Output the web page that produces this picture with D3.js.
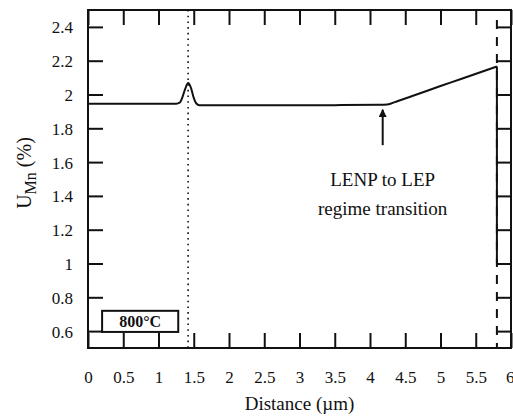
<!DOCTYPE html>
<html>
<head>
<meta charset="utf-8">
<script src="https://cdn.jsdelivr.net/npm/d3@7"></script>
<style>
  html, body { margin: 0; padding: 0; background: #fff; }
  svg { display: block; }
  svg text { font-family: "Liberation Serif", "Times New Roman", serif; }
</style>
</head>
<body>
<svg id="chart" width="513" height="417"></svg>
<script>
// Mn profile across the interface at 800°C
const distance = [0, 0.6, 1.0, 1.25, 1.3, 1.34, 1.38, 1.42, 1.46, 1.5, 1.54, 1.58, 1.65, 2.5, 3.5, 4.15, 4.24, 4.3, 4.35, 4.6, 5.0, 5.28, 5.8];
const uMn      = [1.945, 1.945, 1.945, 1.946, 1.952, 1.985, 2.035, 2.068, 2.04, 1.98, 1.945, 1.937, 1.936, 1.936, 1.937, 1.939, 1.941, 1.947, 1.955, 1.991, 2.05, 2.09, 2.166];

// Vertical drop of the profile at the interface
const interfaceX = 5.8;
const dropTo = 1.0;

// Reference markers
const dottedX = 1.42;
const arrowX = 4.18;
const arrowFrom = 1.70;   // shaft bottom (U value)
const arrowTo = 1.91;     // arrow tip (U value)

const xTicks = [0, 0.5, 1, 1.5, 2, 2.5, 3, 3.5, 4, 4.5, 5, 5.5, 6];
const yTicks = [0.6, 0.8, 1, 1.2, 1.4, 1.6, 1.8, 2, 2.2, 2.4];
const noteLines = ["LENP to LEP", "regime transition"];
const tempLabel = "800°C";

const svg = d3.select("#chart");
const margin = { left: 88, right: 2, top: 10, bottom: 69 };
const W = 513, H = 417;
const x = d3.scaleLinear().domain([0, 6]).range([margin.left, W - margin.right]);
const y = d3.scaleLinear().domain([0.5, 2.5]).range([H - margin.bottom, margin.top]);

const tickLen = 15;
const fmt = d => String(d);

// Axes with inward ticks on all four sides
const gB = svg.append("g").attr("transform", `translate(0,${y.range()[0]})`)
  .call(d3.axisBottom(x).tickValues(xTicks).tickFormat(fmt).tickSizeInner(-tickLen).tickSizeOuter(0).tickPadding(23));
const gT = svg.append("g").attr("transform", `translate(0,${y.range()[1]})`)
  .call(d3.axisTop(x).tickValues(xTicks).tickFormat("").tickSizeInner(-tickLen).tickSizeOuter(0));
const gL = svg.append("g").attr("transform", `translate(${x.range()[0]},0)`)
  .call(d3.axisLeft(y).tickValues(yTicks).tickFormat(fmt).tickSizeInner(-tickLen).tickSizeOuter(0).tickPadding(15));
const gR = svg.append("g").attr("transform", `translate(${x.range()[1]},0)`)
  .call(d3.axisRight(y).tickValues(yTicks).tickFormat("").tickSizeInner(-tickLen).tickSizeOuter(0));

[gB, gT, gL, gR].forEach(g => {
  g.attr("font-family", null).attr("font-size", null);
  g.select(".domain").remove();
  g.selectAll(".tick line").attr("stroke", "#111").attr("stroke-width", 2);
  g.selectAll(".tick text").attr("fill", "#111").style("font-size", "17px");
});
gL.selectAll(".tick text").attr("dy", "0.35em");
// keep the last label inside the frame edge
gB.selectAll(".tick text").filter(d => d === 6).attr("text-anchor", "end").attr("dx", 3);

// Frame
svg.append("rect")
  .attr("x", x.range()[0]).attr("y", y.range()[1])
  .attr("width", x.range()[1] - x.range()[0]).attr("height", y.range()[0] - y.range()[1])
  .attr("fill", "none").attr("stroke", "#111").attr("stroke-width", 2);

// Dotted marker line
svg.append("line")
  .attr("x1", x(dottedX)).attr("x2", x(dottedX))
  .attr("y1", y.range()[1]).attr("y2", y.range()[0])
  .attr("stroke", "#111").attr("stroke-width", 1.6).attr("stroke-dasharray", "1.6,4.1");

// Dashed interface line
svg.append("line")
  .attr("x1", x(interfaceX)).attr("x2", x(interfaceX))
  .attr("y1", y.range()[1] + 10).attr("y2", y.range()[0])
  .attr("stroke", "#111").attr("stroke-width", 2).attr("stroke-dasharray", "9,8");

// Profile
const pts = distance.map((d, i) => [d, uMn[i]]);
const line = d3.line().x(d => x(d[0])).y(d => y(d[1])).curve(d3.curveMonotoneX);
svg.append("path").datum(pts).attr("d", line)
  .attr("fill", "none").attr("stroke", "#111").attr("stroke-width", 2);

// Drop at the interface
svg.append("line")
  .attr("x1", x(interfaceX)).attr("x2", x(interfaceX))
  .attr("y1", y(uMn[uMn.length - 1])).attr("y2", y(dropTo))
  .attr("stroke", "#111").attr("stroke-width", 2);

// Arrow
svg.append("defs").append("marker")
  .attr("id", "ah").attr("viewBox", "0 0 10 10").attr("refX", 9).attr("refY", 5)
  .attr("markerWidth", 4).attr("markerHeight", 4).attr("orient", "auto")
  .append("path").attr("d", "M0,0 L10,5 L0,10 Z").attr("fill", "#111");
svg.append("line")
  .attr("x1", x(arrowX)).attr("x2", x(arrowX))
  .attr("y1", y(arrowFrom)).attr("y2", y(arrowTo))
  .attr("stroke", "#111").attr("stroke-width", 2).attr("marker-end", "url(#ah)");

// Annotation text
svg.append("text")
  .attr("x", x(arrowX)).attr("y", 186)
  .attr("text-anchor", "middle").style("font-size", "19px").attr("fill", "#111")
  .selectAll("tspan").data(noteLines).join("tspan")
  .attr("x", x(arrowX)).attr("dy", (d, i) => i ? 29 : 0).text(d => d);

// Temperature box
const bx = x(0.2), by = y(0.72), bw = x(1.28) - x(0.2), bh = y(0.595) - y(0.72);
svg.append("rect").attr("x", bx).attr("y", by).attr("width", bw).attr("height", bh)
  .attr("fill", "#fff").attr("stroke", "#111").attr("stroke-width", 2);
svg.append("text").attr("x", bx + bw / 2).attr("y", by + bh / 2 + 5.5)
  .attr("text-anchor", "middle").style("font-size", "16px").style("font-weight", "bold")
  .attr("fill", "#111").text(tempLabel);

// Axis titles
svg.append("text").attr("x", (x.range()[0] + x.range()[1]) / 2).attr("y", 410)
  .attr("text-anchor", "middle").style("font-size", "19px").attr("fill", "#111")
  .text("Distance (µm)");

const yl = svg.append("text")
  .attr("transform", `translate(31,${(y.range()[0] + y.range()[1]) / 2 - 6}) rotate(-90)`)
  .attr("text-anchor", "middle").style("font-size", "20px").attr("fill", "#111");
yl.append("tspan").text("U");
yl.append("tspan").attr("dy", 5).style("font-size", "16px").text("Mn");
yl.append("tspan").attr("dy", -5).text(" (%)");
</script>
</body>
</html>
